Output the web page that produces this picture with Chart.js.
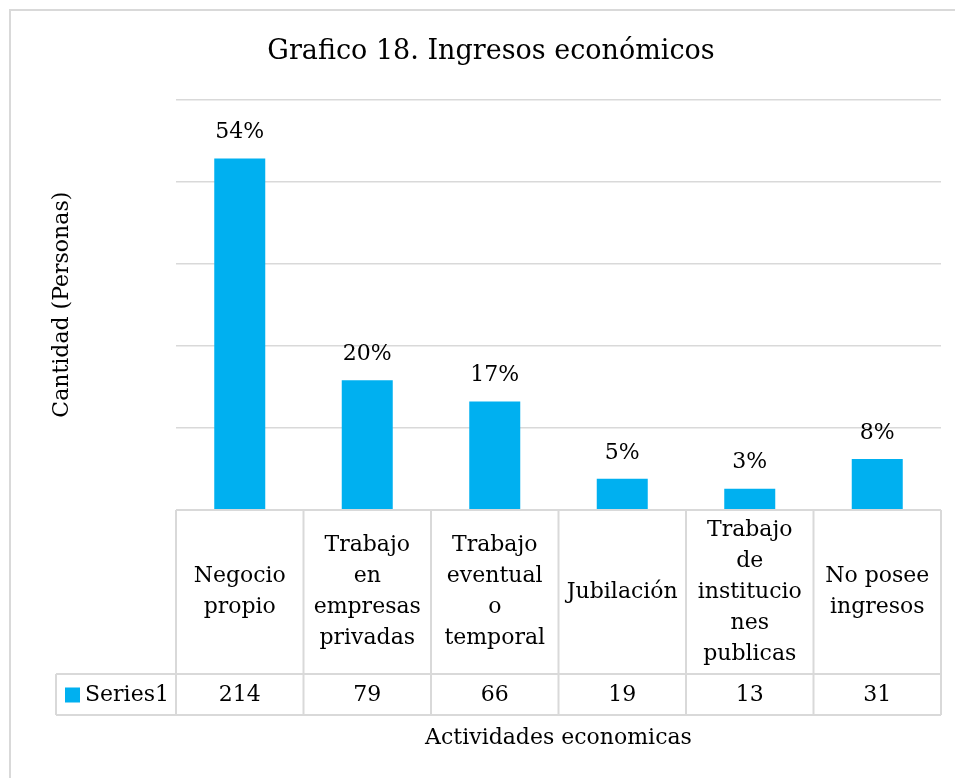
<!DOCTYPE html>
<html>
<head>
<meta charset="utf-8">
<script src="https://cdn.jsdelivr.net/npm/chart.js@4.4.0/dist/chart.umd.min.js"></script>
<style>
  html, body { margin: 0; padding: 0; background: #fff; }
  canvas { display: block; }
</style>
</head>
<body>
<canvas id="grafico" width="955" height="778"></canvas>
<script>
// datos del grafico
const categorias = [
  ['Negocio', 'propio'],
  ['Trabajo', 'en', 'empresas', 'privadas'],
  ['Trabajo', 'eventual', 'o', 'temporal'],
  ['Jubilación'],
  ['Trabajo', 'de', 'institucio', 'nes', 'publicas'],
  ['No posee', 'ingresos']
];
const personas = [214, 79, 66, 19, 13, 31];
const porcentajes = ['54%', '20%', '17%', '5%', '3%', '8%'];
const serieNombre = 'Series1';
const ejeYMax = 250;
const ejeYPaso = 50;

const fuente = 'DejaVu Serif';
const azul = '#00B0F0';
const gris = '#d9d9d9';

// etiquetas de porcentaje encima de las barras
const etiquetas = {
  id: 'etiquetas',
  afterDatasetsDraw(chart) {
    const ctx = chart.ctx;
    const meta = chart.getDatasetMeta(0);
    ctx.save();
    ctx.font = '22px "' + fuente + '"';
    ctx.fillStyle = '#000';
    ctx.textAlign = 'center';
    ctx.textBaseline = 'middle';
    meta.data.forEach((bar, i) => {
      ctx.fillText(porcentajes[i], bar.x, bar.y - 26);
    });
    ctx.restore();
  }
};

// tabla de datos debajo del grafico (estilo Excel)
const tabla = {
  id: 'tabla',
  afterDraw(chart) {
    const ctx = chart.ctx;
    const x = chart.scales.x;
    const area = chart.chartArea;
    const ancho = (x.getPixelForValue(1) - x.getPixelForValue(0));
    const y0 = area.bottom;
    const y1 = y0 + 164;
    const y2 = y1 + 41;
    const izq = x.getPixelForValue(0) - ancho / 2;
    const der = x.getPixelForValue(categorias.length - 1) + ancho / 2;
    const leyendaIzq = 56;

    ctx.save();
    // borde exterior
    ctx.strokeStyle = gris;
    ctx.lineWidth = 2;
    ctx.strokeRect(10, 10, 960, 790);

    ctx.beginPath();
    ctx.moveTo(izq, y0); ctx.lineTo(der, y0);
    ctx.moveTo(leyendaIzq, y1); ctx.lineTo(der, y1);
    ctx.moveTo(leyendaIzq, y2); ctx.lineTo(der, y2);
    ctx.moveTo(leyendaIzq, y1); ctx.lineTo(leyendaIzq, y2);
    for (let i = 0; i <= categorias.length; i++) {
      const cx = izq + i * ancho;
      ctx.moveTo(cx, y0); ctx.lineTo(cx, y2);
    }
    ctx.stroke();

    ctx.font = '22px "' + fuente + '"';
    ctx.fillStyle = '#000';
    ctx.textAlign = 'center';
    ctx.textBaseline = 'middle';
    const paso = 31;
    categorias.forEach((lineas, i) => {
      const cx = x.getPixelForValue(i);
      const cy = (y0 + y1) / 2 - (lineas.length - 1) * paso / 2;
      lineas.forEach((t, j) => ctx.fillText(t, cx, cy + j * paso));
      ctx.fillText(String(personas[i]), cx, (y1 + y2) / 2 + 1);
    });

    // leyenda
    ctx.fillStyle = azul;
    ctx.fillRect(65, (y1 + y2) / 2 - 7, 15, 15);
    ctx.fillStyle = '#000';
    ctx.textAlign = 'left';
    ctx.fillText(serieNombre, 85, (y1 + y2) / 2 + 1);
    ctx.restore();
  }
};

new Chart(document.getElementById('grafico'), {
  type: 'bar',
  data: {
    labels: categorias,
    datasets: [{
      label: serieNombre,
      data: personas,
      backgroundColor: azul,
      barPercentage: 0.4,
      categoryPercentage: 1
    }]
  },
  options: {
    responsive: false,
    animation: false,
    layout: { padding: { left: 41, right: 14, top: 10, bottom: 0 } },
    plugins: {
      legend: { display: false },
      tooltip: { enabled: false },
      title: {
        display: true,
        text: 'Grafico 18. Ingresos económicos',
        color: '#000',
        font: { family: fuente, size: 27, weight: 'normal', lineHeight: 1.2 },
        padding: { top: 26, bottom: 31 }
      }
    },
    scales: {
      x: {
        grid: { display: false, drawTicks: false },
        border: { display: false },
        ticks: { display: false },
        title: {
          display: true,
          text: 'Actividades economicas',
          color: '#000',
          font: { family: fuente, size: 22, lineHeight: 1.2 },
          padding: { top: 0, bottom: 27 }
        },
        afterFit(scale) { scale.height = 268; }
      },
      y: {
        min: 0,
        max: ejeYMax,
        grid: { color: gris, lineWidth: 1.5, drawTicks: false },
        border: { display: false },
        ticks: { display: false, stepSize: ejeYPaso },
        title: {
          display: true,
          text: 'Cantidad (Personas)',
          color: '#000',
          font: { family: fuente, size: 22, lineHeight: 1.2 },
          padding: { top: 8, bottom: 0 }
        },
        afterFit(scale) { scale.width = 135; }
      }
    }
  },
  plugins: [etiquetas, tabla]
});
</script>
</body>
</html>
